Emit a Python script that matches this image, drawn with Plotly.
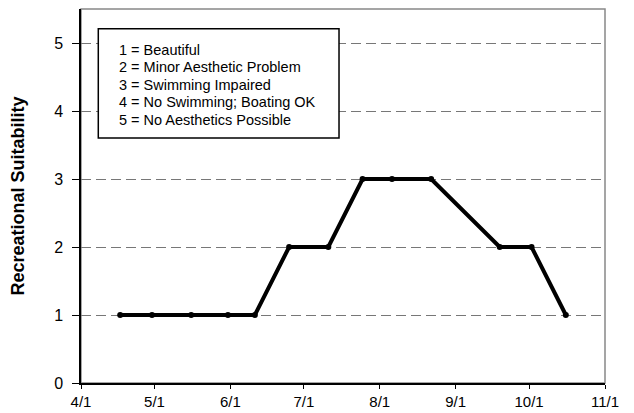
import plotly.graph_objects as go

# sample dates and recreational suitability ratings
dates = ['2005-04-17', '2005-04-30', '2005-05-16', '2005-05-31', '2005-06-11',
         '2005-06-25', '2005-07-11', '2005-07-25', '2005-08-06', '2005-08-22',
         '2005-09-19', '2005-10-02', '2005-10-16']
rating = [1, 1, 1, 1, 1, 2, 2, 3, 3, 3, 2, 2, 1]

tick_dates = ['2005-04-01', '2005-05-01', '2005-06-01', '2005-07-01',
              '2005-08-01', '2005-09-01', '2005-10-01', '2005-11-01']
tick_text = ['4/1', '5/1', '6/1', '7/1', '8/1', '9/1', '10/1', '11/1']

key_lines = ['1 = Beautiful', '2 = Minor Aesthetic Problem', '3 = Swimming Impaired',
             '4 = No Swimming; Boating OK', '5 = No Aesthetics Possible']

font = 'Arial, Liberation Sans, sans-serif'

fig = go.Figure()
fig.add_trace(go.Scatter(
    x=dates, y=rating, mode='lines+markers',
    line=dict(color='black', width=4),
    marker=dict(color='black', size=6),
    showlegend=False,
))

# page body has an 8px margin, so the figure is a bit smaller than the window
fig.update_layout(
    width=626, height=405,
    margin=dict(l=73, r=29, t=1, b=30),
    paper_bgcolor='white', plot_bgcolor='white',
    font=dict(family=font, color='black'),
    xaxis=dict(
        type='date', range=['2005-04-01', '2005-11-01'],
        tickvals=tick_dates, ticktext=tick_text, automargin=False,
        tickfont=dict(size=15), showgrid=False, zeroline=False,
        showline=True, linecolor='black', linewidth=1.5,
        ticks='outside', ticklen=4, tickcolor='black',
    ),
    yaxis=dict(
        range=[0, 5.5], tickvals=[0, 1, 2, 3, 4, 5], automargin=False,
        tickfont=dict(size=16), zeroline=False,
        showgrid=True, gridcolor='#777777', gridwidth=1, griddash='10px,5px',
        showline=True, linecolor='black', linewidth=1.5,
        ticks='outside', ticklen=7, tickcolor='black', ticklabelstandoff=6,
        title=dict(text='<b>Recreational Suitability</b>', font=dict(size=18), standoff=33),
    ),
)

# gray frame on top/right
fig.add_shape(type='rect', xref='paper', yref='paper', x0=0, x1=1, y0=0, y1=1,
              line=dict(color='#888888', width=1.5), layer='below')

# key box
fig.add_shape(type='rect', xref='paper', yref='paper', x0=0.033, x1=0.4924,
              y0=0.6553, y1=0.9473, line=dict(color='black', width=1.5),
              fillcolor='white', layer='above')
for i, line in enumerate(key_lines):
    fig.add_annotation(xref='paper', yref='paper', x=0.069, y=0.891 - i * 0.0469,
                       xanchor='left', yanchor='middle', showarrow=False,
                       text=line, font=dict(size=14.5, family=font))

fig.write_html('out.html')
